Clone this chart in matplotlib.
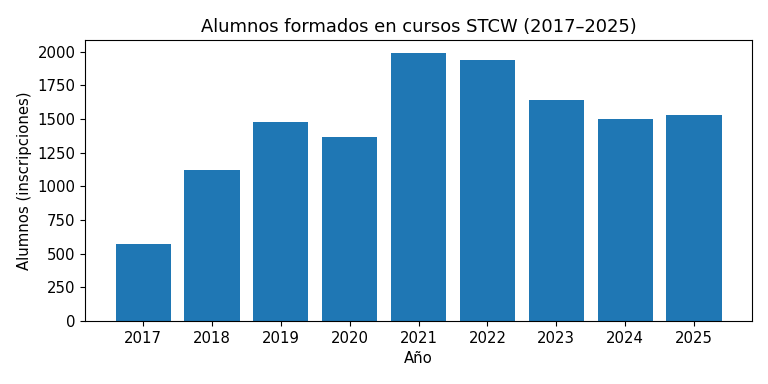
import matplotlib
matplotlib.use("Agg")
import matplotlib.pyplot as plt

# datos
anios = ["2017", "2018", "2019", "2020", "2021", "2022", "2023", "2024", "2025"]
alumnos = [575, 1125, 1477, 1363, 1988, 1936, 1643, 1502, 1527]

plt.rcParams["font.size"] = 10.7

fig, ax = plt.subplots(figsize=(7.68, 3.84), dpi=100)
ax.bar(anios, alumnos, color="#1f77b4")
ax.set_title("Alumnos formados en cursos STCW (2017–2025)")
ax.set_xlabel("Año")
ax.set_ylabel("Alumnos (inscripciones)")

fig.subplots_adjust(left=0.111, right=0.979, top=0.896, bottom=0.164)
fig.savefig("out.png")
